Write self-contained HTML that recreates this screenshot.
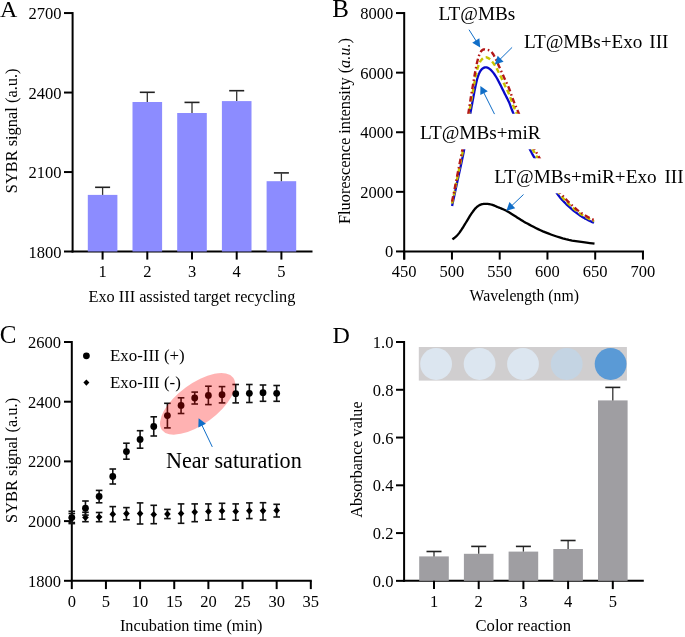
<!DOCTYPE html>
<html><head><meta charset="utf-8"><style>
html,body{margin:0;padding:0;background:#fff;overflow:hidden;width:685px;height:637px;}
svg{display:block;filter:blur(0.45px);}
text{font-family:"Liberation Serif",serif;fill:#000;}
</style></head><body>
<svg width="685" height="637" viewBox="0 0 685 637">
<defs><clipPath id="clipB"><rect x="405" y="0" width="280" height="250.5"/></clipPath></defs>
<rect x="0" y="0" width="685" height="637" fill="#fff"/>
<text x="0.00" y="16.60" font-size="24" text-anchor="start"  style="">A</text>
<line x1="72.60" y1="12.05" x2="72.60" y2="252.50" stroke="#000" stroke-width="2.0" stroke-linecap="butt"/>
<line x1="71.60" y1="251.50" x2="312.50" y2="251.50" stroke="#000" stroke-width="2.0" stroke-linecap="butt"/>
<line x1="64.00" y1="13.05" x2="72.60" y2="13.05" stroke="#000" stroke-width="2.0" stroke-linecap="butt"/>
<text x="61.50" y="19.05" font-size="16.5" text-anchor="end"  style="">2700</text>
<line x1="64.00" y1="92.55" x2="72.60" y2="92.55" stroke="#000" stroke-width="2.0" stroke-linecap="butt"/>
<text x="61.50" y="98.55" font-size="16.5" text-anchor="end"  style="">2400</text>
<line x1="64.00" y1="172.05" x2="72.60" y2="172.05" stroke="#000" stroke-width="2.0" stroke-linecap="butt"/>
<text x="61.50" y="178.05" font-size="16.5" text-anchor="end"  style="">2100</text>
<line x1="64.00" y1="251.50" x2="72.60" y2="251.50" stroke="#000" stroke-width="2.0" stroke-linecap="butt"/>
<text x="61.50" y="257.50" font-size="16.5" text-anchor="end"  style="">1800</text>
<rect x="87.80" y="194.90" width="29.60" height="56.60" fill="#8c8cff"/>
<line x1="102.60" y1="194.90" x2="102.60" y2="187.80" stroke="#333" stroke-width="1.3" stroke-linecap="butt"/>
<line x1="95.10" y1="187.30" x2="110.10" y2="187.30" stroke="#222" stroke-width="1.6" stroke-linecap="butt"/>
<line x1="102.60" y1="251.50" x2="102.60" y2="259.60" stroke="#000" stroke-width="2.0" stroke-linecap="butt"/>
<text x="102.60" y="276.60" font-size="16.5" text-anchor="middle"  style="">1</text>
<rect x="132.50" y="102.00" width="29.60" height="149.50" fill="#8c8cff"/>
<line x1="147.30" y1="102.00" x2="147.30" y2="92.80" stroke="#333" stroke-width="1.3" stroke-linecap="butt"/>
<line x1="139.80" y1="92.30" x2="154.80" y2="92.30" stroke="#222" stroke-width="1.6" stroke-linecap="butt"/>
<line x1="147.30" y1="251.50" x2="147.30" y2="259.60" stroke="#000" stroke-width="2.0" stroke-linecap="butt"/>
<text x="147.30" y="276.60" font-size="16.5" text-anchor="middle"  style="">2</text>
<rect x="177.20" y="113.00" width="29.60" height="138.50" fill="#8c8cff"/>
<line x1="192.00" y1="113.00" x2="192.00" y2="102.90" stroke="#333" stroke-width="1.3" stroke-linecap="butt"/>
<line x1="184.50" y1="102.40" x2="199.50" y2="102.40" stroke="#222" stroke-width="1.6" stroke-linecap="butt"/>
<line x1="192.00" y1="251.50" x2="192.00" y2="259.60" stroke="#000" stroke-width="2.0" stroke-linecap="butt"/>
<text x="192.00" y="276.60" font-size="16.5" text-anchor="middle"  style="">3</text>
<rect x="221.90" y="101.10" width="29.60" height="150.40" fill="#8c8cff"/>
<line x1="236.70" y1="101.10" x2="236.70" y2="91.20" stroke="#333" stroke-width="1.3" stroke-linecap="butt"/>
<line x1="229.20" y1="90.70" x2="244.20" y2="90.70" stroke="#222" stroke-width="1.6" stroke-linecap="butt"/>
<line x1="236.70" y1="251.50" x2="236.70" y2="259.60" stroke="#000" stroke-width="2.0" stroke-linecap="butt"/>
<text x="236.70" y="276.60" font-size="16.5" text-anchor="middle"  style="">4</text>
<rect x="266.60" y="181.20" width="29.60" height="70.30" fill="#8c8cff"/>
<line x1="281.40" y1="181.20" x2="281.40" y2="173.40" stroke="#333" stroke-width="1.3" stroke-linecap="butt"/>
<line x1="273.90" y1="172.90" x2="288.90" y2="172.90" stroke="#222" stroke-width="1.6" stroke-linecap="butt"/>
<line x1="281.40" y1="251.50" x2="281.40" y2="259.60" stroke="#000" stroke-width="2.0" stroke-linecap="butt"/>
<text x="281.40" y="276.60" font-size="16.5" text-anchor="middle"  style="">5</text>
<text x="191.90" y="302.20" font-size="16.3" text-anchor="middle"  style="">Exo III assisted target recycling</text>
<text transform="translate(16.9,130.85) rotate(-90)" font-size="16.4" text-anchor="middle">SYBR signal (a.u.)</text>
<text x="332.30" y="16.70" font-size="25" text-anchor="start"  style="">B</text>
<line x1="404.20" y1="12.05" x2="404.20" y2="259.60" stroke="#000" stroke-width="2.0" stroke-linecap="butt"/>
<line x1="403.20" y1="251.45" x2="644.00" y2="251.45" stroke="#000" stroke-width="2.0" stroke-linecap="butt"/>
<line x1="396.00" y1="251.45" x2="404.20" y2="251.45" stroke="#000" stroke-width="2.0" stroke-linecap="butt"/>
<text x="393.30" y="257.45" font-size="16.5" text-anchor="end"  style="">0</text>
<line x1="396.00" y1="191.85" x2="404.20" y2="191.85" stroke="#000" stroke-width="2.0" stroke-linecap="butt"/>
<text x="393.30" y="197.85" font-size="16.5" text-anchor="end"  style="">2000</text>
<line x1="396.00" y1="132.25" x2="404.20" y2="132.25" stroke="#000" stroke-width="2.0" stroke-linecap="butt"/>
<text x="393.30" y="138.25" font-size="16.5" text-anchor="end"  style="">4000</text>
<line x1="396.00" y1="72.65" x2="404.20" y2="72.65" stroke="#000" stroke-width="2.0" stroke-linecap="butt"/>
<text x="393.30" y="78.65" font-size="16.5" text-anchor="end"  style="">6000</text>
<line x1="396.00" y1="13.05" x2="404.20" y2="13.05" stroke="#000" stroke-width="2.0" stroke-linecap="butt"/>
<text x="393.30" y="19.05" font-size="16.5" text-anchor="end"  style="">8000</text>
<line x1="404.20" y1="251.45" x2="404.20" y2="259.60" stroke="#000" stroke-width="2.0" stroke-linecap="butt"/>
<text x="404.20" y="277.40" font-size="16.5" text-anchor="middle"  style="">450</text>
<line x1="451.95" y1="251.45" x2="451.95" y2="259.60" stroke="#000" stroke-width="2.0" stroke-linecap="butt"/>
<text x="451.95" y="277.40" font-size="16.5" text-anchor="middle"  style="">500</text>
<line x1="499.70" y1="251.45" x2="499.70" y2="259.60" stroke="#000" stroke-width="2.0" stroke-linecap="butt"/>
<text x="499.70" y="277.40" font-size="16.5" text-anchor="middle"  style="">550</text>
<line x1="547.45" y1="251.45" x2="547.45" y2="259.60" stroke="#000" stroke-width="2.0" stroke-linecap="butt"/>
<text x="547.45" y="277.40" font-size="16.5" text-anchor="middle"  style="">600</text>
<line x1="595.20" y1="251.45" x2="595.20" y2="259.60" stroke="#000" stroke-width="2.0" stroke-linecap="butt"/>
<text x="595.20" y="277.40" font-size="16.5" text-anchor="middle"  style="">650</text>
<line x1="642.95" y1="251.45" x2="642.95" y2="259.60" stroke="#000" stroke-width="2.0" stroke-linecap="butt"/>
<text x="642.95" y="277.40" font-size="16.5" text-anchor="middle"  style="">700</text>
<text x="524.25" y="301.30" font-size="15.75" text-anchor="middle"  style="">Wavelength (nm)</text>
<text transform="translate(350,131) rotate(-90)" font-size="16.35" text-anchor="middle">Fluorescence intensity (<tspan font-style="italic">a.u.</tspan>)</text>
<g clip-path="url(#clipB)">
<path d="M452.10,205.90 L452.55,203.80 L453.15,201.02 L453.87,197.71 L454.66,194.03 L455.51,190.11 L456.37,186.12 L457.21,182.20 L458.00,178.50 L458.76,174.98 L459.53,171.48 L460.31,167.96 L461.09,164.41 L461.87,160.80 L462.65,157.09 L463.43,153.27 L464.20,149.30 L464.99,144.99 L465.83,140.28 L466.67,135.35 L467.51,130.38 L468.31,125.55 L469.06,121.04 L469.73,117.03 L470.30,113.70 L470.75,111.13 L471.10,109.19 L471.37,107.73 L471.59,106.59 L471.77,105.64 L471.95,104.73 L472.16,103.69 L472.40,102.40 L472.67,100.91 L472.95,99.39 L473.23,97.86 L473.51,96.31 L473.79,94.75 L474.09,93.19 L474.39,91.64 L474.70,90.10 L475.02,88.54 L475.35,86.93 L475.69,85.31 L476.04,83.70 L476.39,82.13 L476.75,80.62 L477.12,79.20 L477.50,77.90 L477.88,76.71 L478.26,75.59 L478.64,74.55 L479.03,73.58 L479.44,72.68 L479.86,71.86 L480.32,71.09 L480.80,70.40 L481.32,69.77 L481.88,69.19 L482.46,68.69 L483.06,68.25 L483.68,67.89 L484.29,67.61 L484.90,67.41 L485.50,67.30 L486.09,67.29 L486.67,67.38 L487.26,67.55 L487.84,67.80 L488.43,68.12 L489.02,68.50 L489.61,68.93 L490.20,69.40 L490.80,69.92 L491.40,70.51 L492.00,71.16 L492.60,71.86 L493.20,72.61 L493.80,73.40 L494.40,74.23 L495.00,75.10 L495.59,76.01 L496.18,76.98 L496.77,78.00 L497.36,79.06 L497.94,80.15 L498.53,81.26 L499.11,82.38 L499.70,83.50 L500.29,84.64 L500.88,85.80 L501.46,86.99 L502.05,88.19 L502.64,89.40 L503.22,90.61 L503.81,91.81 L504.40,93.00 L504.99,94.17 L505.59,95.32 L506.18,96.47 L506.78,97.62 L507.37,98.78 L507.96,99.95 L508.54,101.16 L509.10,102.40 L509.62,103.64 L510.09,104.84 L510.54,106.04 L510.98,107.28 L511.45,108.58 L511.98,109.98 L512.59,111.51 L513.30,113.20 L514.13,115.09 L515.07,117.16 L516.08,119.36 L517.15,121.66 L518.25,124.01 L519.36,126.38 L520.45,128.72 L521.50,131.00 L522.55,133.29 L523.62,135.67 L524.72,138.09 L525.80,140.49 L526.86,142.82 L527.88,145.03 L528.83,147.08 L529.70,148.90 L530.44,150.40 L531.03,151.60 L531.53,152.58 L532.01,153.47 L532.50,154.36 L533.08,155.36 L533.80,156.57 L534.70,158.10 L535.81,159.97 L537.08,162.08 L538.48,164.37 L539.96,166.79 L541.49,169.28 L543.03,171.76 L544.54,174.19 L546.00,176.50 L547.44,178.77 L548.92,181.10 L550.41,183.45 L551.90,185.76 L553.36,187.99 L554.76,190.11 L556.08,192.06 L557.30,193.80 L558.39,195.30 L559.37,196.60 L560.26,197.72 L561.11,198.73 L561.93,199.67 L562.76,200.58 L563.64,201.50 L564.60,202.50 L565.63,203.55 L566.71,204.60 L567.83,205.64 L568.96,206.68 L570.09,207.68 L571.22,208.66 L572.33,209.61 L573.40,210.50 L574.44,211.35 L575.47,212.17 L576.49,212.95 L577.49,213.70 L578.49,214.42 L579.47,215.11 L580.44,215.77 L581.40,216.40 L582.36,217.00 L583.32,217.57 L584.28,218.11 L585.22,218.62 L586.14,219.10 L587.03,219.56 L587.89,219.99 L588.70,220.40 L589.49,220.79 L590.29,221.17 L591.07,221.52 L591.81,221.85 L592.49,222.15 L593.09,222.41 L593.60,222.63 L594.00,222.80" fill="none" stroke="#0a0ac8" stroke-width="2.3"/>
<path d="M452.10,203.41 L452.55,201.20 L453.15,198.27 L453.87,194.78 L454.66,190.89 L455.51,186.77 L456.37,182.56 L457.21,178.43 L458.00,174.53 L458.76,170.82 L459.53,167.13 L460.31,163.43 L461.09,159.68 L461.87,155.87 L462.65,151.97 L463.43,147.94 L464.20,143.75 L464.99,139.21 L465.83,134.25 L466.67,129.05 L467.51,123.81 L468.31,118.72 L469.06,113.97 L469.73,109.74 L470.30,106.23 L470.75,103.52 L471.10,101.48 L471.37,99.94 L471.59,98.74 L471.77,97.74 L471.95,96.77 L472.16,95.69 L472.40,94.32 L472.67,92.75 L472.95,91.15 L473.23,89.53 L473.51,87.90 L473.79,86.26 L474.09,84.62 L474.39,82.98 L474.70,81.36 L475.02,79.71 L475.35,78.02 L475.69,76.31 L476.04,74.61 L476.39,72.95 L476.75,71.36 L477.12,69.87 L477.50,68.50 L477.88,67.24 L478.26,66.07 L478.64,64.97 L479.03,63.95 L479.44,63.00 L479.86,62.13 L480.32,61.33 L480.80,60.59 L481.32,59.93 L481.88,59.32 L482.46,58.79 L483.06,58.33 L483.68,57.95 L484.29,57.65 L484.90,57.44 L485.50,57.33 L486.09,57.31 L486.67,57.41 L487.26,57.59 L487.84,57.85 L488.43,58.19 L489.02,58.59 L489.61,59.04 L490.20,59.54 L490.80,60.09 L491.40,60.71 L492.00,61.39 L492.60,62.13 L493.20,62.92 L493.80,63.76 L494.40,64.63 L495.00,65.55 L495.59,66.51 L496.18,67.53 L496.77,68.61 L497.36,69.72 L497.94,70.87 L498.53,72.04 L499.11,73.22 L499.70,74.40 L500.29,75.60 L500.88,76.83 L501.46,78.08 L502.05,79.34 L502.64,80.62 L503.22,81.89 L503.81,83.16 L504.40,84.41 L504.99,85.65 L505.59,86.86 L506.18,88.07 L506.78,89.28 L507.37,90.50 L507.96,91.74 L508.54,93.01 L509.10,94.32 L509.62,95.62 L510.09,96.89 L510.54,98.16 L510.98,99.46 L511.45,100.83 L511.98,102.31 L512.59,103.92 L513.30,105.70 L514.13,107.70 L515.07,109.87 L516.08,112.20 L517.15,114.62 L518.25,117.10 L519.36,119.60 L520.45,122.07 L521.50,124.47 L522.55,126.88 L523.62,129.39 L524.72,131.94 L525.80,134.47 L526.86,136.92 L527.88,139.26 L528.83,141.41 L529.70,143.33 L530.44,144.92 L531.03,146.17 L531.53,147.21 L532.01,148.15 L532.50,149.09 L533.08,150.14 L533.80,151.42 L534.70,153.03 L535.81,155.00 L537.08,157.22 L538.48,159.64 L539.96,162.19 L541.49,164.81 L543.03,167.43 L544.54,169.99 L546.00,172.42 L547.44,174.82 L548.92,177.28 L550.41,179.74 L551.90,182.18 L553.36,184.53 L554.76,186.76 L556.08,188.82 L557.30,190.66 L558.39,192.24 L559.37,193.60 L560.26,194.79 L561.11,195.85 L561.93,196.84 L562.76,197.80 L563.64,198.78 L564.60,199.83 L565.63,200.93 L566.71,202.04 L567.83,203.14 L568.96,204.23 L570.09,205.29 L571.22,206.32 L572.33,207.32 L573.40,208.26 L574.44,209.16 L575.47,210.02 L576.49,210.84 L577.49,211.63 L578.49,212.39 L579.47,213.12 L580.44,213.81 L581.40,214.48 L582.36,215.11 L583.32,215.71 L584.28,216.28 L585.22,216.82 L586.14,217.32 L587.03,217.81 L587.89,218.26 L588.70,218.69 L589.49,219.11 L590.29,219.50 L591.07,219.88 L591.81,220.22 L592.49,220.53 L593.09,220.81 L593.60,221.04 L594.00,221.22" fill="none" stroke="#c8c400" stroke-width="2.4" stroke-dasharray="5 3"/>
<path d="M452.10,201.61 L452.55,199.32 L453.15,196.28 L453.87,192.66 L454.66,188.63 L455.51,184.36 L456.37,179.99 L457.21,175.71 L458.00,171.66 L458.76,167.82 L459.53,163.99 L460.31,160.15 L461.09,156.27 L461.87,152.32 L462.65,148.27 L463.43,144.09 L464.20,139.75 L464.99,135.04 L465.83,129.89 L466.67,124.50 L467.51,119.07 L468.31,113.79 L469.06,108.86 L469.73,104.48 L470.30,100.83 L470.75,98.02 L471.10,95.89 L471.37,94.29 L471.59,93.05 L471.77,92.00 L471.95,91.00 L472.16,89.86 L472.40,88.44 L472.67,86.80 L472.95,85.13 L473.23,83.43 L473.51,81.71 L473.79,79.99 L474.09,78.25 L474.39,76.52 L474.70,74.79 L475.02,73.03 L475.35,71.21 L475.69,69.36 L476.04,67.51 L476.39,65.70 L476.75,63.94 L477.12,62.27 L477.50,60.73 L477.88,59.29 L478.26,57.94 L478.64,56.68 L479.03,55.50 L479.44,54.41 L479.86,53.41 L480.32,52.51 L480.80,51.71 L481.32,51.03 L481.88,50.46 L482.46,50.02 L483.06,49.70 L483.68,49.50 L484.29,49.40 L484.90,49.39 L485.50,49.46 L486.09,49.61 L486.67,49.76 L487.26,49.80 L487.84,49.90 L488.43,50.06 L489.02,50.27 L489.61,50.55 L490.20,50.88 L490.80,51.31 L491.40,51.86 L492.00,52.54 L492.60,53.33 L493.20,54.25 L493.80,55.26 L494.40,56.35 L495.00,57.49 L495.59,58.69 L496.18,59.95 L496.77,61.24 L497.36,62.54 L497.94,63.85 L498.53,65.16 L499.11,66.46 L499.70,67.73 L500.29,69.01 L500.88,70.31 L501.46,71.62 L502.05,72.94 L502.64,74.27 L503.22,75.59 L503.81,76.91 L504.40,78.21 L504.99,79.49 L505.59,80.75 L506.18,82.01 L506.78,83.26 L507.37,84.53 L507.96,85.81 L508.54,87.13 L509.10,88.49 L509.62,89.84 L510.09,91.15 L510.54,92.47 L510.98,93.82 L511.45,95.24 L511.98,96.77 L512.59,98.44 L513.30,100.29 L514.13,102.36 L515.07,104.61 L516.08,107.02 L517.15,109.53 L518.25,112.11 L519.36,114.70 L520.45,117.26 L521.50,119.75 L522.55,122.25 L523.62,124.85 L524.72,127.49 L525.80,130.12 L526.86,132.67 L527.88,135.09 L528.83,137.32 L529.70,139.31 L530.44,140.95 L531.03,142.26 L531.53,143.34 L532.01,144.31 L532.50,145.28 L533.08,146.37 L533.80,147.69 L534.70,149.37 L535.81,151.41 L537.08,153.72 L538.48,156.23 L539.96,158.87 L541.49,161.58 L543.03,164.30 L544.54,166.95 L546.00,169.48 L547.44,171.96 L548.92,174.51 L550.41,177.07 L551.90,179.60 L553.36,182.04 L554.76,184.35 L556.08,186.48 L557.30,188.39 L558.39,190.03 L559.37,191.44 L560.26,192.68 L561.11,193.78 L561.93,194.80 L562.76,195.79 L563.64,196.81 L564.60,197.90 L565.63,199.04 L566.71,200.19 L567.83,201.33 L568.96,202.46 L570.09,203.56 L571.22,204.63 L572.33,205.66 L573.40,206.64 L574.44,207.57 L575.47,208.46 L576.49,209.32 L577.49,210.14 L578.49,210.92 L579.47,211.68 L580.44,212.40 L581.40,213.09 L582.36,213.75 L583.32,214.37 L584.28,214.96 L585.22,215.51 L586.14,216.04 L587.03,216.54 L587.89,217.01 L588.70,217.46 L589.49,217.89 L590.29,218.30 L591.07,218.69 L591.81,219.05 L592.49,219.37 L593.09,219.65 L593.60,219.89 L594.00,220.08" fill="none" stroke="#b41818" stroke-width="2.4" stroke-dasharray="5.5 2.8 1.6 2.8"/>
<path d="M452.40,239.40 L452.78,239.10 L453.29,238.72 L453.89,238.26 L454.56,237.75 L455.26,237.19 L455.97,236.58 L456.66,235.95 L457.30,235.30 L457.90,234.62 L458.49,233.89 L459.08,233.12 L459.66,232.32 L460.25,231.49 L460.83,230.64 L461.41,229.77 L462.00,228.90 L462.59,228.01 L463.18,227.08 L463.76,226.14 L464.35,225.18 L464.94,224.20 L465.52,223.23 L466.11,222.26 L466.70,221.30 L467.29,220.34 L467.88,219.36 L468.47,218.38 L469.06,217.39 L469.64,216.43 L470.23,215.48 L470.82,214.57 L471.40,213.70 L471.98,212.86 L472.55,212.04 L473.13,211.24 L473.70,210.47 L474.27,209.74 L474.85,209.05 L475.42,208.40 L476.00,207.80 L476.58,207.25 L477.14,206.75 L477.71,206.30 L478.27,205.88 L478.85,205.51 L479.45,205.17 L480.06,204.87 L480.70,204.60 L481.37,204.37 L482.07,204.19 L482.79,204.04 L483.52,203.93 L484.27,203.86 L485.02,203.81 L485.76,203.79 L486.50,203.80 L487.23,203.84 L487.97,203.91 L488.71,204.02 L489.45,204.15 L490.19,204.31 L490.93,204.49 L491.67,204.69 L492.40,204.90 L493.11,205.13 L493.80,205.38 L494.48,205.66 L495.16,205.95 L495.85,206.26 L496.58,206.59 L497.36,206.94 L498.20,207.30 L499.10,207.67 L500.05,208.04 L501.05,208.43 L502.07,208.84 L503.13,209.27 L504.21,209.74 L505.30,210.24 L506.40,210.80 L507.50,211.41 L508.61,212.06 L509.74,212.75 L510.89,213.48 L512.06,214.24 L513.27,215.01 L514.51,215.80 L515.80,216.60 L517.10,217.41 L518.39,218.22 L519.70,219.06 L521.06,219.91 L522.48,220.79 L523.99,221.70 L525.62,222.63 L527.40,223.60 L529.32,224.62 L531.35,225.70 L533.48,226.83 L535.72,227.97 L538.05,229.12 L540.46,230.25 L542.94,231.35 L545.50,232.40 L548.15,233.43 L550.90,234.46 L553.75,235.47 L556.68,236.47 L559.66,237.42 L562.68,238.32 L565.74,239.15 L568.80,239.90 L572.07,240.57 L575.66,241.18 L579.39,241.73 L583.11,242.22 L586.64,242.65 L589.83,243.02 L592.50,243.34 L594.50,243.60" fill="none" stroke="#000" stroke-width="2.3"/>
</g>
<rect x="418.00" y="113.80" width="126.00" height="35.50" fill="#fff"/>
<rect x="492.00" y="158.30" width="193.00" height="35.00" fill="#fff"/>
<text x="438.60" y="19.70" font-size="19.2" text-anchor="start"  style="">LT@MBs</text>
<text x="524.0" y="47.8" font-size="19.2">LT@MBs+Exo <tspan dx="2.1">III</tspan></text>
<text x="420.00" y="138.90" font-size="19.2" text-anchor="start"  style="">LT@MBs+miR</text>
<text x="494.3" y="183.0" font-size="19.2">LT@MBs+miR+Exo <tspan dx="3.0">III</tspan></text>
<line x1="469.00" y1="29.70" x2="476.35" y2="41.32" stroke="#106ec8" stroke-width="1.0" stroke-linecap="butt"/>
<polygon points="480.20,47.40 472.27,42.72 479.36,38.22" fill="#106ec8"/>
<line x1="512.10" y1="47.40" x2="499.92" y2="59.44" stroke="#106ec8" stroke-width="1.0" stroke-linecap="butt"/>
<polygon points="494.80,64.50 497.68,55.75 503.58,61.72" fill="#106ec8"/>
<line x1="494.50" y1="114.10" x2="483.62" y2="92.34" stroke="#106ec8" stroke-width="1.0" stroke-linecap="butt"/>
<polygon points="480.40,85.90 487.82,91.36 480.31,95.11" fill="#106ec8"/>
<line x1="523.50" y1="194.50" x2="511.61" y2="205.83" stroke="#106ec8" stroke-width="1.0" stroke-linecap="butt"/>
<polygon points="506.40,210.80 509.44,202.10 515.23,208.18" fill="#106ec8"/>
<text x="-0.30" y="343.00" font-size="25" text-anchor="start"  style="">C</text>
<line x1="71.80" y1="341.00" x2="71.80" y2="589.10" stroke="#000" stroke-width="2.0" stroke-linecap="butt"/>
<line x1="70.80" y1="580.80" x2="311.80" y2="580.80" stroke="#000" stroke-width="2.0" stroke-linecap="butt"/>
<line x1="64.00" y1="580.80" x2="71.80" y2="580.80" stroke="#000" stroke-width="2.0" stroke-linecap="butt"/>
<text x="61.00" y="586.80" font-size="16.5" text-anchor="end"  style="">1800</text>
<line x1="64.00" y1="521.10" x2="71.80" y2="521.10" stroke="#000" stroke-width="2.0" stroke-linecap="butt"/>
<text x="61.00" y="527.10" font-size="16.5" text-anchor="end"  style="">2000</text>
<line x1="64.00" y1="461.40" x2="71.80" y2="461.40" stroke="#000" stroke-width="2.0" stroke-linecap="butt"/>
<text x="61.00" y="467.40" font-size="16.5" text-anchor="end"  style="">2200</text>
<line x1="64.00" y1="401.70" x2="71.80" y2="401.70" stroke="#000" stroke-width="2.0" stroke-linecap="butt"/>
<text x="61.00" y="407.70" font-size="16.5" text-anchor="end"  style="">2400</text>
<line x1="64.00" y1="342.00" x2="71.80" y2="342.00" stroke="#000" stroke-width="2.0" stroke-linecap="butt"/>
<text x="61.00" y="348.00" font-size="16.5" text-anchor="end"  style="">2600</text>
<text x="71.80" y="607.00" font-size="16.5" text-anchor="middle"  style="">0</text>
<line x1="105.94" y1="580.80" x2="105.94" y2="589.10" stroke="#000" stroke-width="2.0" stroke-linecap="butt"/>
<text x="105.94" y="607.00" font-size="16.5" text-anchor="middle"  style="">5</text>
<line x1="140.09" y1="580.80" x2="140.09" y2="589.10" stroke="#000" stroke-width="2.0" stroke-linecap="butt"/>
<text x="140.09" y="607.00" font-size="16.5" text-anchor="middle"  style="">10</text>
<line x1="174.24" y1="580.80" x2="174.24" y2="589.10" stroke="#000" stroke-width="2.0" stroke-linecap="butt"/>
<text x="174.24" y="607.00" font-size="16.5" text-anchor="middle"  style="">15</text>
<line x1="208.38" y1="580.80" x2="208.38" y2="589.10" stroke="#000" stroke-width="2.0" stroke-linecap="butt"/>
<text x="208.38" y="607.00" font-size="16.5" text-anchor="middle"  style="">20</text>
<line x1="242.52" y1="580.80" x2="242.52" y2="589.10" stroke="#000" stroke-width="2.0" stroke-linecap="butt"/>
<text x="242.52" y="607.00" font-size="16.5" text-anchor="middle"  style="">25</text>
<line x1="276.67" y1="580.80" x2="276.67" y2="589.10" stroke="#000" stroke-width="2.0" stroke-linecap="butt"/>
<text x="276.67" y="607.00" font-size="16.5" text-anchor="middle"  style="">30</text>
<line x1="310.81" y1="580.80" x2="310.81" y2="589.10" stroke="#000" stroke-width="2.0" stroke-linecap="butt"/>
<text x="310.81" y="607.00" font-size="16.5" text-anchor="middle"  style="">35</text>
<text x="191.20" y="631.30" font-size="16.25" text-anchor="middle"  style="">Incubation time (min)</text>
<text transform="translate(16.6,460.4) rotate(-90)" font-size="16.45" text-anchor="middle">SYBR signal (a.u.)</text>
<line x1="71.80" y1="513.50" x2="71.80" y2="522.50" stroke="#111" stroke-width="1.6" stroke-linecap="butt"/>
<line x1="68.50" y1="513.50" x2="75.10" y2="513.50" stroke="#111" stroke-width="1.6" stroke-linecap="butt"/>
<line x1="68.50" y1="522.50" x2="75.10" y2="522.50" stroke="#111" stroke-width="1.6" stroke-linecap="butt"/>
<polygon points="71.80,514.40 75.10,518.00 71.80,521.60 68.50,518.00" fill="#000"/>
<line x1="85.46" y1="512.30" x2="85.46" y2="521.70" stroke="#111" stroke-width="1.6" stroke-linecap="butt"/>
<line x1="82.16" y1="512.30" x2="88.76" y2="512.30" stroke="#111" stroke-width="1.6" stroke-linecap="butt"/>
<line x1="82.16" y1="521.70" x2="88.76" y2="521.70" stroke="#111" stroke-width="1.6" stroke-linecap="butt"/>
<polygon points="85.46,513.90 88.76,517.50 85.46,521.10 82.16,517.50" fill="#000"/>
<line x1="99.12" y1="512.50" x2="99.12" y2="521.70" stroke="#111" stroke-width="1.6" stroke-linecap="butt"/>
<line x1="95.82" y1="512.50" x2="102.42" y2="512.50" stroke="#111" stroke-width="1.6" stroke-linecap="butt"/>
<line x1="95.82" y1="521.70" x2="102.42" y2="521.70" stroke="#111" stroke-width="1.6" stroke-linecap="butt"/>
<polygon points="99.12,513.40 102.42,517.00 99.12,520.60 95.82,517.00" fill="#000"/>
<line x1="112.77" y1="506.60" x2="112.77" y2="521.70" stroke="#111" stroke-width="1.6" stroke-linecap="butt"/>
<line x1="109.47" y1="506.60" x2="116.07" y2="506.60" stroke="#111" stroke-width="1.6" stroke-linecap="butt"/>
<line x1="109.47" y1="521.70" x2="116.07" y2="521.70" stroke="#111" stroke-width="1.6" stroke-linecap="butt"/>
<polygon points="112.77,510.60 116.07,514.20 112.77,517.80 109.47,514.20" fill="#000"/>
<line x1="126.43" y1="507.60" x2="126.43" y2="519.80" stroke="#111" stroke-width="1.6" stroke-linecap="butt"/>
<line x1="123.13" y1="507.60" x2="129.73" y2="507.60" stroke="#111" stroke-width="1.6" stroke-linecap="butt"/>
<line x1="123.13" y1="519.80" x2="129.73" y2="519.80" stroke="#111" stroke-width="1.6" stroke-linecap="butt"/>
<polygon points="126.43,510.00 129.73,513.60 126.43,517.20 123.13,513.60" fill="#000"/>
<line x1="140.09" y1="502.90" x2="140.09" y2="524.00" stroke="#111" stroke-width="1.6" stroke-linecap="butt"/>
<line x1="136.79" y1="502.90" x2="143.39" y2="502.90" stroke="#111" stroke-width="1.6" stroke-linecap="butt"/>
<line x1="136.79" y1="524.00" x2="143.39" y2="524.00" stroke="#111" stroke-width="1.6" stroke-linecap="butt"/>
<polygon points="140.09,510.00 143.39,513.60 140.09,517.20 136.79,513.60" fill="#000"/>
<line x1="153.75" y1="505.30" x2="153.75" y2="523.70" stroke="#111" stroke-width="1.6" stroke-linecap="butt"/>
<line x1="150.45" y1="505.30" x2="157.05" y2="505.30" stroke="#111" stroke-width="1.6" stroke-linecap="butt"/>
<line x1="150.45" y1="523.70" x2="157.05" y2="523.70" stroke="#111" stroke-width="1.6" stroke-linecap="butt"/>
<polygon points="153.75,510.90 157.05,514.50 153.75,518.10 150.45,514.50" fill="#000"/>
<line x1="167.41" y1="509.40" x2="167.41" y2="518.60" stroke="#111" stroke-width="1.6" stroke-linecap="butt"/>
<line x1="164.11" y1="509.40" x2="170.71" y2="509.40" stroke="#111" stroke-width="1.6" stroke-linecap="butt"/>
<line x1="164.11" y1="518.60" x2="170.71" y2="518.60" stroke="#111" stroke-width="1.6" stroke-linecap="butt"/>
<polygon points="167.41,510.50 170.71,514.10 167.41,517.70 164.11,514.10" fill="#000"/>
<line x1="181.06" y1="503.90" x2="181.06" y2="523.30" stroke="#111" stroke-width="1.6" stroke-linecap="butt"/>
<line x1="177.76" y1="503.90" x2="184.36" y2="503.90" stroke="#111" stroke-width="1.6" stroke-linecap="butt"/>
<line x1="177.76" y1="523.30" x2="184.36" y2="523.30" stroke="#111" stroke-width="1.6" stroke-linecap="butt"/>
<polygon points="181.06,509.90 184.36,513.50 181.06,517.10 177.76,513.50" fill="#000"/>
<line x1="194.72" y1="503.90" x2="194.72" y2="521.70" stroke="#111" stroke-width="1.6" stroke-linecap="butt"/>
<line x1="191.42" y1="503.90" x2="198.02" y2="503.90" stroke="#111" stroke-width="1.6" stroke-linecap="butt"/>
<line x1="191.42" y1="521.70" x2="198.02" y2="521.70" stroke="#111" stroke-width="1.6" stroke-linecap="butt"/>
<polygon points="194.72,508.50 198.02,512.10 194.72,515.70 191.42,512.10" fill="#000"/>
<line x1="208.38" y1="503.90" x2="208.38" y2="520.20" stroke="#111" stroke-width="1.6" stroke-linecap="butt"/>
<line x1="205.08" y1="503.90" x2="211.68" y2="503.90" stroke="#111" stroke-width="1.6" stroke-linecap="butt"/>
<line x1="205.08" y1="520.20" x2="211.68" y2="520.20" stroke="#111" stroke-width="1.6" stroke-linecap="butt"/>
<polygon points="208.38,507.90 211.68,511.50 208.38,515.10 205.08,511.50" fill="#000"/>
<line x1="222.04" y1="503.30" x2="222.04" y2="519.20" stroke="#111" stroke-width="1.6" stroke-linecap="butt"/>
<line x1="218.74" y1="503.30" x2="225.34" y2="503.30" stroke="#111" stroke-width="1.6" stroke-linecap="butt"/>
<line x1="218.74" y1="519.20" x2="225.34" y2="519.20" stroke="#111" stroke-width="1.6" stroke-linecap="butt"/>
<polygon points="222.04,507.40 225.34,511.00 222.04,514.60 218.74,511.00" fill="#000"/>
<line x1="235.70" y1="503.90" x2="235.70" y2="520.20" stroke="#111" stroke-width="1.6" stroke-linecap="butt"/>
<line x1="232.40" y1="503.90" x2="239.00" y2="503.90" stroke="#111" stroke-width="1.6" stroke-linecap="butt"/>
<line x1="232.40" y1="520.20" x2="239.00" y2="520.20" stroke="#111" stroke-width="1.6" stroke-linecap="butt"/>
<polygon points="235.70,507.90 239.00,511.50 235.70,515.10 232.40,511.50" fill="#000"/>
<line x1="249.35" y1="502.90" x2="249.35" y2="518.60" stroke="#111" stroke-width="1.6" stroke-linecap="butt"/>
<line x1="246.05" y1="502.90" x2="252.65" y2="502.90" stroke="#111" stroke-width="1.6" stroke-linecap="butt"/>
<line x1="246.05" y1="518.60" x2="252.65" y2="518.60" stroke="#111" stroke-width="1.6" stroke-linecap="butt"/>
<polygon points="249.35,507.20 252.65,510.80 249.35,514.40 246.05,510.80" fill="#000"/>
<line x1="263.01" y1="502.70" x2="263.01" y2="520.00" stroke="#111" stroke-width="1.6" stroke-linecap="butt"/>
<line x1="259.71" y1="502.70" x2="266.31" y2="502.70" stroke="#111" stroke-width="1.6" stroke-linecap="butt"/>
<line x1="259.71" y1="520.00" x2="266.31" y2="520.00" stroke="#111" stroke-width="1.6" stroke-linecap="butt"/>
<polygon points="263.01,507.20 266.31,510.80 263.01,514.40 259.71,510.80" fill="#000"/>
<line x1="276.67" y1="504.30" x2="276.67" y2="517.00" stroke="#111" stroke-width="1.6" stroke-linecap="butt"/>
<line x1="273.37" y1="504.30" x2="279.97" y2="504.30" stroke="#111" stroke-width="1.6" stroke-linecap="butt"/>
<line x1="273.37" y1="517.00" x2="279.97" y2="517.00" stroke="#111" stroke-width="1.6" stroke-linecap="butt"/>
<polygon points="276.67,506.80 279.97,510.40 276.67,514.00 273.37,510.40" fill="#000"/>
<line x1="71.80" y1="511.30" x2="71.80" y2="523.60" stroke="#111" stroke-width="1.6" stroke-linecap="butt"/>
<line x1="68.50" y1="511.30" x2="75.10" y2="511.30" stroke="#111" stroke-width="1.6" stroke-linecap="butt"/>
<line x1="68.50" y1="523.60" x2="75.10" y2="523.60" stroke="#111" stroke-width="1.6" stroke-linecap="butt"/>
<circle cx="71.80" cy="517.60" r="3.4" fill="#000"/>
<line x1="85.46" y1="501.00" x2="85.46" y2="515.10" stroke="#111" stroke-width="1.6" stroke-linecap="butt"/>
<line x1="82.16" y1="501.00" x2="88.76" y2="501.00" stroke="#111" stroke-width="1.6" stroke-linecap="butt"/>
<line x1="82.16" y1="515.10" x2="88.76" y2="515.10" stroke="#111" stroke-width="1.6" stroke-linecap="butt"/>
<circle cx="85.46" cy="508.20" r="3.4" fill="#000"/>
<line x1="99.12" y1="490.40" x2="99.12" y2="502.80" stroke="#111" stroke-width="1.6" stroke-linecap="butt"/>
<line x1="95.82" y1="490.40" x2="102.42" y2="490.40" stroke="#111" stroke-width="1.6" stroke-linecap="butt"/>
<line x1="95.82" y1="502.80" x2="102.42" y2="502.80" stroke="#111" stroke-width="1.6" stroke-linecap="butt"/>
<circle cx="99.12" cy="496.40" r="3.4" fill="#000"/>
<line x1="112.77" y1="469.00" x2="112.77" y2="484.00" stroke="#111" stroke-width="1.6" stroke-linecap="butt"/>
<line x1="109.47" y1="469.00" x2="116.07" y2="469.00" stroke="#111" stroke-width="1.6" stroke-linecap="butt"/>
<line x1="109.47" y1="484.00" x2="116.07" y2="484.00" stroke="#111" stroke-width="1.6" stroke-linecap="butt"/>
<circle cx="112.77" cy="476.50" r="3.4" fill="#000"/>
<line x1="126.43" y1="443.20" x2="126.43" y2="459.20" stroke="#111" stroke-width="1.6" stroke-linecap="butt"/>
<line x1="123.13" y1="443.20" x2="129.73" y2="443.20" stroke="#111" stroke-width="1.6" stroke-linecap="butt"/>
<line x1="123.13" y1="459.20" x2="129.73" y2="459.20" stroke="#111" stroke-width="1.6" stroke-linecap="butt"/>
<circle cx="126.43" cy="451.60" r="3.4" fill="#000"/>
<line x1="140.09" y1="430.70" x2="140.09" y2="448.20" stroke="#111" stroke-width="1.6" stroke-linecap="butt"/>
<line x1="136.79" y1="430.70" x2="143.39" y2="430.70" stroke="#111" stroke-width="1.6" stroke-linecap="butt"/>
<line x1="136.79" y1="448.20" x2="143.39" y2="448.20" stroke="#111" stroke-width="1.6" stroke-linecap="butt"/>
<circle cx="140.09" cy="439.40" r="3.4" fill="#000"/>
<line x1="153.75" y1="416.80" x2="153.75" y2="436.00" stroke="#111" stroke-width="1.6" stroke-linecap="butt"/>
<line x1="150.45" y1="416.80" x2="157.05" y2="416.80" stroke="#111" stroke-width="1.6" stroke-linecap="butt"/>
<line x1="150.45" y1="436.00" x2="157.05" y2="436.00" stroke="#111" stroke-width="1.6" stroke-linecap="butt"/>
<circle cx="153.75" cy="426.50" r="3.4" fill="#000"/>
<line x1="167.41" y1="403.30" x2="167.41" y2="427.90" stroke="#111" stroke-width="1.6" stroke-linecap="butt"/>
<line x1="164.11" y1="403.30" x2="170.71" y2="403.30" stroke="#111" stroke-width="1.6" stroke-linecap="butt"/>
<line x1="164.11" y1="427.90" x2="170.71" y2="427.90" stroke="#111" stroke-width="1.6" stroke-linecap="butt"/>
<circle cx="167.41" cy="415.60" r="3.4" fill="#000"/>
<line x1="181.06" y1="397.80" x2="181.06" y2="413.50" stroke="#111" stroke-width="1.6" stroke-linecap="butt"/>
<line x1="177.76" y1="397.80" x2="184.36" y2="397.80" stroke="#111" stroke-width="1.6" stroke-linecap="butt"/>
<line x1="177.76" y1="413.50" x2="184.36" y2="413.50" stroke="#111" stroke-width="1.6" stroke-linecap="butt"/>
<circle cx="181.06" cy="405.40" r="3.4" fill="#000"/>
<line x1="194.72" y1="392.10" x2="194.72" y2="404.00" stroke="#111" stroke-width="1.6" stroke-linecap="butt"/>
<line x1="191.42" y1="392.10" x2="198.02" y2="392.10" stroke="#111" stroke-width="1.6" stroke-linecap="butt"/>
<line x1="191.42" y1="404.00" x2="198.02" y2="404.00" stroke="#111" stroke-width="1.6" stroke-linecap="butt"/>
<circle cx="194.72" cy="398.00" r="3.4" fill="#000"/>
<line x1="208.38" y1="386.20" x2="208.38" y2="404.60" stroke="#111" stroke-width="1.6" stroke-linecap="butt"/>
<line x1="205.08" y1="386.20" x2="211.68" y2="386.20" stroke="#111" stroke-width="1.6" stroke-linecap="butt"/>
<line x1="205.08" y1="404.60" x2="211.68" y2="404.60" stroke="#111" stroke-width="1.6" stroke-linecap="butt"/>
<circle cx="208.38" cy="395.40" r="3.4" fill="#000"/>
<line x1="222.04" y1="386.60" x2="222.04" y2="402.90" stroke="#111" stroke-width="1.6" stroke-linecap="butt"/>
<line x1="218.74" y1="386.60" x2="225.34" y2="386.60" stroke="#111" stroke-width="1.6" stroke-linecap="butt"/>
<line x1="218.74" y1="402.90" x2="225.34" y2="402.90" stroke="#111" stroke-width="1.6" stroke-linecap="butt"/>
<circle cx="222.04" cy="394.70" r="3.4" fill="#000"/>
<line x1="235.70" y1="384.50" x2="235.70" y2="402.90" stroke="#111" stroke-width="1.6" stroke-linecap="butt"/>
<line x1="232.40" y1="384.50" x2="239.00" y2="384.50" stroke="#111" stroke-width="1.6" stroke-linecap="butt"/>
<line x1="232.40" y1="402.90" x2="239.00" y2="402.90" stroke="#111" stroke-width="1.6" stroke-linecap="butt"/>
<circle cx="235.70" cy="393.70" r="3.4" fill="#000"/>
<line x1="249.35" y1="384.50" x2="249.35" y2="402.50" stroke="#111" stroke-width="1.6" stroke-linecap="butt"/>
<line x1="246.05" y1="384.50" x2="252.65" y2="384.50" stroke="#111" stroke-width="1.6" stroke-linecap="butt"/>
<line x1="246.05" y1="402.50" x2="252.65" y2="402.50" stroke="#111" stroke-width="1.6" stroke-linecap="butt"/>
<circle cx="249.35" cy="393.30" r="3.4" fill="#000"/>
<line x1="263.01" y1="385.00" x2="263.01" y2="401.30" stroke="#111" stroke-width="1.6" stroke-linecap="butt"/>
<line x1="259.71" y1="385.00" x2="266.31" y2="385.00" stroke="#111" stroke-width="1.6" stroke-linecap="butt"/>
<line x1="259.71" y1="401.30" x2="266.31" y2="401.30" stroke="#111" stroke-width="1.6" stroke-linecap="butt"/>
<circle cx="263.01" cy="392.70" r="3.4" fill="#000"/>
<line x1="276.67" y1="385.50" x2="276.67" y2="401.30" stroke="#111" stroke-width="1.6" stroke-linecap="butt"/>
<line x1="273.37" y1="385.50" x2="279.97" y2="385.50" stroke="#111" stroke-width="1.6" stroke-linecap="butt"/>
<line x1="273.37" y1="401.30" x2="279.97" y2="401.30" stroke="#111" stroke-width="1.6" stroke-linecap="butt"/>
<circle cx="276.67" cy="393.30" r="3.4" fill="#000"/>
<circle cx="86.4" cy="355.8" r="3.4" fill="#000"/>
<polygon points="86.4,379.5 89.4,382.6 86.4,385.7 83.4,382.6" fill="#000"/>
<text x="110.00" y="361.00" font-size="16.9" text-anchor="start"  style="">Exo-III (+)</text>
<text x="110.00" y="387.60" font-size="16.9" text-anchor="start"  style="">Exo-III (-)</text>
<ellipse cx="197.6" cy="403.85" rx="44.2" ry="20.2" transform="rotate(-36.2 197.6 403.85)" fill="rgba(255,0,0,0.30)"/>
<line x1="212.30" y1="446.90" x2="201.70" y2="424.70" stroke="#106ec8" stroke-width="1.0" stroke-linecap="butt"/>
<polygon points="198.60,418.20 205.92,423.79 198.34,427.41" fill="#106ec8"/>
<text x="165.90" y="468.00" font-size="22.15" text-anchor="start"  style="">Near saturation</text>
<text x="332.60" y="343.00" font-size="24" text-anchor="start"  style="">D</text>
<line x1="404.10" y1="341.00" x2="404.10" y2="581.85" stroke="#000" stroke-width="2.0" stroke-linecap="butt"/>
<line x1="403.10" y1="580.85" x2="643.80" y2="580.85" stroke="#000" stroke-width="2.0" stroke-linecap="butt"/>
<line x1="396.00" y1="580.85" x2="404.10" y2="580.85" stroke="#000" stroke-width="2.0" stroke-linecap="butt"/>
<text x="393.40" y="586.85" font-size="16.5" text-anchor="end"  style="">0.0</text>
<line x1="396.00" y1="533.08" x2="404.10" y2="533.08" stroke="#000" stroke-width="2.0" stroke-linecap="butt"/>
<text x="393.40" y="539.08" font-size="16.5" text-anchor="end"  style="">0.2</text>
<line x1="396.00" y1="485.31" x2="404.10" y2="485.31" stroke="#000" stroke-width="2.0" stroke-linecap="butt"/>
<text x="393.40" y="491.31" font-size="16.5" text-anchor="end"  style="">0.4</text>
<line x1="396.00" y1="437.54" x2="404.10" y2="437.54" stroke="#000" stroke-width="2.0" stroke-linecap="butt"/>
<text x="393.40" y="443.54" font-size="16.5" text-anchor="end"  style="">0.6</text>
<line x1="396.00" y1="389.77" x2="404.10" y2="389.77" stroke="#000" stroke-width="2.0" stroke-linecap="butt"/>
<text x="393.40" y="395.77" font-size="16.5" text-anchor="end"  style="">0.8</text>
<line x1="396.00" y1="342.00" x2="404.10" y2="342.00" stroke="#000" stroke-width="2.0" stroke-linecap="butt"/>
<text x="393.40" y="348.00" font-size="16.5" text-anchor="end"  style="">1.0</text>
<rect x="418.80" y="347.00" width="208.10" height="33.60" fill="#d0cecf"/>
<circle cx="436.1" cy="364.0" r="15.9" fill="#dce6f0"/>
<circle cx="479.6" cy="364.0" r="15.9" fill="#dce6f0"/>
<circle cx="523.0" cy="364.0" r="15.9" fill="#dce6f0"/>
<circle cx="566.7" cy="364.0" r="15.9" fill="#c4d4e3"/>
<circle cx="610.6" cy="364.0" r="15.9" fill="#5a9ad6"/>
<rect x="419.20" y="556.40" width="29.60" height="24.45" fill="#9f9ea2"/>
<line x1="434.00" y1="556.40" x2="434.00" y2="552.00" stroke="#333" stroke-width="1.3" stroke-linecap="butt"/>
<line x1="426.50" y1="551.50" x2="441.50" y2="551.50" stroke="#222" stroke-width="1.6" stroke-linecap="butt"/>
<line x1="434.00" y1="580.85" x2="434.00" y2="589.10" stroke="#000" stroke-width="2.0" stroke-linecap="butt"/>
<text x="434.00" y="606.50" font-size="16.5" text-anchor="middle"  style="">1</text>
<rect x="463.90" y="553.80" width="29.60" height="27.05" fill="#9f9ea2"/>
<line x1="478.70" y1="553.80" x2="478.70" y2="546.90" stroke="#333" stroke-width="1.3" stroke-linecap="butt"/>
<line x1="471.20" y1="546.40" x2="486.20" y2="546.40" stroke="#222" stroke-width="1.6" stroke-linecap="butt"/>
<line x1="478.70" y1="580.85" x2="478.70" y2="589.10" stroke="#000" stroke-width="2.0" stroke-linecap="butt"/>
<text x="478.70" y="606.50" font-size="16.5" text-anchor="middle"  style="">2</text>
<rect x="508.60" y="551.60" width="29.60" height="29.25" fill="#9f9ea2"/>
<line x1="523.40" y1="551.60" x2="523.40" y2="546.90" stroke="#333" stroke-width="1.3" stroke-linecap="butt"/>
<line x1="515.90" y1="546.40" x2="530.90" y2="546.40" stroke="#222" stroke-width="1.6" stroke-linecap="butt"/>
<line x1="523.40" y1="580.85" x2="523.40" y2="589.10" stroke="#000" stroke-width="2.0" stroke-linecap="butt"/>
<text x="523.40" y="606.50" font-size="16.5" text-anchor="middle"  style="">3</text>
<rect x="553.30" y="549.00" width="29.60" height="31.85" fill="#9f9ea2"/>
<line x1="568.10" y1="549.00" x2="568.10" y2="541.00" stroke="#333" stroke-width="1.3" stroke-linecap="butt"/>
<line x1="560.60" y1="540.50" x2="575.60" y2="540.50" stroke="#222" stroke-width="1.6" stroke-linecap="butt"/>
<line x1="568.10" y1="580.85" x2="568.10" y2="589.10" stroke="#000" stroke-width="2.0" stroke-linecap="butt"/>
<text x="568.10" y="606.50" font-size="16.5" text-anchor="middle"  style="">4</text>
<rect x="598.00" y="400.40" width="29.60" height="180.45" fill="#9f9ea2"/>
<line x1="612.80" y1="400.40" x2="612.80" y2="387.90" stroke="#333" stroke-width="1.3" stroke-linecap="butt"/>
<line x1="605.30" y1="387.40" x2="620.30" y2="387.40" stroke="#222" stroke-width="1.6" stroke-linecap="butt"/>
<line x1="612.80" y1="580.85" x2="612.80" y2="589.10" stroke="#000" stroke-width="2.0" stroke-linecap="butt"/>
<text x="612.80" y="606.50" font-size="16.5" text-anchor="middle"  style="">5</text>
<text x="523.25" y="631.30" font-size="16.6" text-anchor="middle"  style="">Color reaction</text>
<text transform="translate(362.1,459.6) rotate(-90)" font-size="16.2" text-anchor="middle">Absorbance value</text>
</svg>
</body></html>
